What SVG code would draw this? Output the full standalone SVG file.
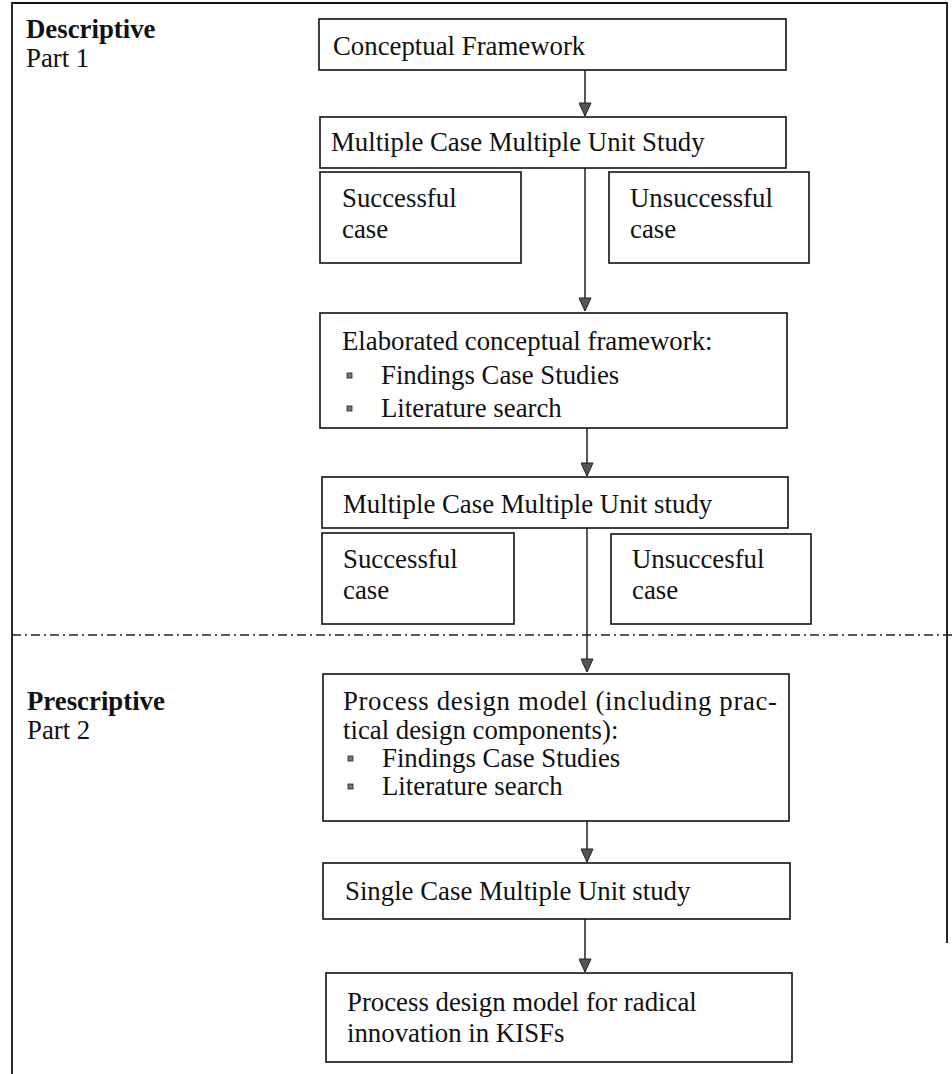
<svg xmlns="http://www.w3.org/2000/svg" width="952" height="1074" viewBox="0 0 952 1074">
  <style>
    text { font-family: "Liberation Serif", "Times New Roman", serif; font-size: 26.8px; fill: #111; }
    .bold { font-weight: bold; }
    .box { fill: #fff; stroke: #111; stroke-width: 1.6; }
    .frame { fill: none; stroke: #111; stroke-width: 1.8; }
    .divider { fill: none; stroke: #222; stroke-width: 1.6; stroke-dasharray: 9 4 2 4; }
    .link { fill: none; stroke: #111; stroke-width: 1.4; }
    .bullet { fill: #777; stroke: #222; stroke-width: 0.8; }
  </style>
  <defs>
    <!-- downward arrowhead: drawn along +x, rotated by orient="auto" -->
    <marker id="arrow" markerWidth="15" markerHeight="13" refX="14" refY="6.5" orient="auto" markerUnits="userSpaceOnUse" viewBox="0 0 15 13">
      <path d="M1,0.5 L14,6.5 L1,12.5 Z" fill="#555" stroke="#222" stroke-width="1"/>
    </marker>
  </defs>

  <rect width="952" height="1074" fill="#fff"/>

  <!-- outer frame and phase divider -->
  <g id="frame">
    <path class="frame" d="M12,1074 L12,3 L947,3 L947,943"/>
    <line class="divider" x1="12" y1="635" x2="952" y2="635"/>
  </g>

  <!-- phase labels -->
  <g id="label-descriptive">
    <text x="26" y="38" class="bold">Descriptive</text>
    <text x="26" y="67">Part 1</text>
  </g>
  <g id="label-prescriptive">
    <text x="27" y="710" class="bold">Prescriptive</text>
    <text x="27" y="739">Part 2</text>
  </g>

  <!-- connectors -->
  <g id="connectors">
    <line class="link" x1="585" y1="70" x2="585" y2="116" marker-end="url(#arrow)"/>
    <line class="link" x1="585" y1="168" x2="585" y2="311" marker-end="url(#arrow)"/>
    <line class="link" x1="587" y1="428" x2="587" y2="476" marker-end="url(#arrow)"/>
    <line class="link" x1="587" y1="528" x2="587" y2="672" marker-end="url(#arrow)"/>
    <line class="link" x1="587" y1="821" x2="587" y2="862" marker-end="url(#arrow)"/>
    <line class="link" x1="585" y1="919" x2="585" y2="972" marker-end="url(#arrow)"/>
  </g>

  <g id="conceptual-framework">
    <rect class="box" x="319" y="19" width="467" height="51"/>
    <text x="333" y="55">Conceptual Framework</text>
  </g>

  <g id="case-study-1">
    <rect class="box" x="320" y="117" width="466" height="51"/>
    <text x="331" y="151">Multiple Case Multiple Unit Study</text>
  </g>
  <g id="successful-case-1">
    <rect class="box" x="320" y="172" width="201" height="91"/>
    <text x="342" y="207">Successful</text>
    <text x="342" y="238">case</text>
  </g>
  <g id="unsuccessful-case-1">
    <rect class="box" x="609" y="172" width="200" height="91"/>
    <text x="630" y="207">Unsuccessful</text>
    <text x="630" y="238">case</text>
  </g>

  <g id="elaborated-framework">
    <rect class="box" x="320" y="313" width="467" height="115"/>
    <text x="342" y="350">Elaborated conceptual framework:</text>
    <rect class="bullet" x="347" y="373" width="5" height="5"/>
    <text x="381" y="384">Findings Case Studies</text>
    <rect class="bullet" x="347" y="406" width="5" height="5"/>
    <text x="381" y="417">Literature search</text>
  </g>

  <g id="case-study-2">
    <rect class="box" x="322" y="477" width="466" height="51"/>
    <text x="343" y="513">Multiple Case Multiple Unit study</text>
  </g>
  <g id="successful-case-2">
    <rect class="box" x="322" y="533" width="192" height="91"/>
    <text x="343" y="568">Successful</text>
    <text x="343" y="599">case</text>
  </g>
  <g id="unsuccessful-case-2">
    <rect class="box" x="611" y="534" width="200" height="90"/>
    <text x="632" y="568">Unsuccesful</text>
    <text x="632" y="599">case</text>
  </g>

  <g id="process-design-model">
    <rect class="box" x="323" y="674" width="466" height="147"/>
    <text x="343" y="710" textLength="434" lengthAdjust="spacing">Process design model (including prac-</text>
    <text x="343" y="739">tical design components):</text>
    <rect class="bullet" x="348" y="756" width="5" height="5"/>
    <text x="382" y="767">Findings Case Studies</text>
    <rect class="bullet" x="348" y="784" width="5" height="5"/>
    <text x="382" y="795">Literature search</text>
  </g>

  <g id="single-case-study">
    <rect class="box" x="323" y="863" width="467" height="56"/>
    <text x="345" y="900">Single Case Multiple Unit study</text>
  </g>

  <g id="final-model">
    <rect class="box" x="326" y="973" width="466" height="89"/>
    <text x="347" y="1011">Process design model for radical</text>
    <text x="347" y="1042">innovation in KISFs</text>
  </g>
</svg>
